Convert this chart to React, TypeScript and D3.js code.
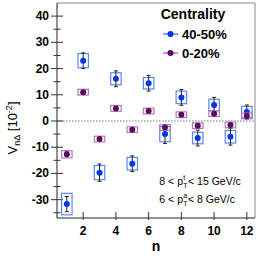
import * as d3 from "d3"

const harmonics = [1, 2, 3, 4, 5, 6, 7, 8, 9, 10, 11, 12]

// 40-50% centrality
const periphVal = [-31.7, 23.0, -19.7, 16.1, -16.3, 14.4, -5.0, 9.0, -6.5, 6.1, -6.0, 3.4]
const periphStat = [2.9, 3.0, 3.3, 3.0, 3.0, 3.0, 3.6, 3.0, 3.0, 2.9, 3.2, 2.7]
const periphSys = [4.1, 2.7, 2.7, 2.3, 2.4, 2.2, 2.9, 2.4, 2.2, 2.2, 2.4, 2.2]

// 0-20% centrality
const centVal = [-12.7, 11.0, -6.9, 4.8, -3.3, 3.8, -2.5, 2.4, -1.8, 2.8, -1.5, 1.9]
const centStat = [0.9, 0.6, 0.6, 0.6, 0.6, 0.6, 0.7, 0.6, 0.6, 0.6, 0.6, 0.6]
const centSys = [1.4, 1.1, 1.1, 1.1, 1.1, 1.1, 1.1, 1.1, 1.1, 1.1, 1.1, 1.1]

const yTicks = [-30, -20, -10, 0, 10, 20, 30, 40]
const yMinor = [-35, -25, -15, -5, 5, 15, 25, 35]
const xTicks = [2, 4, 6, 8, 10, 12]

const series = [
  { label: "40-50%", vals: periphVal, stat: periphStat, sys: periphSys, fill: "#0033ee", box: "#5a86f5" },
  { label: "0-20%", vals: centVal, stat: centStat, sys: centSys, fill: "#5c0a5c", box: "#b27ab8" },
]

// kinematic cut labels: [lead, superscript, tail]
const cuts = [
  ["8 < p", "t", " < 15 GeV/c"],
  ["6 < p", "a", " < 8 GeV/c"],
]

export default function App() {
  const width = 258
  const height = 259
  const m = { top: 3, right: 3, bottom: 41, left: 57 }

  const x = d3.scaleLinear().domain([0.4, 12.5]).range([m.left, width - m.right])
  const y = d3.scaleLinear().domain([-37, 45]).range([height - m.bottom, m.top])
  const halfW = 0.32
  const font = "'Liberation Sans', Arial, sans-serif"

  return (
    <svg width={width} height={height} style={{ position: "absolute", left: 0, top: 0 }} fontFamily={font}>
      <rect width={width} height={height} fill="white" />
      {/* frame */}
      <line x1={m.left} x2={width - m.right} y1={m.top} y2={m.top} stroke="#888" strokeWidth={1} />
      <line x1={width - m.right} x2={width - m.right} y1={m.top} y2={y(-37)} stroke="#888" strokeWidth={1} />
      <line x1={m.left} x2={m.left} y1={m.top} y2={y(-37)} stroke="#222" strokeWidth={1} />
      <line x1={m.left} x2={width - m.right} y1={y(-37)} y2={y(-37)} stroke="#222" strokeWidth={1} />
      {/* zero line */}
      <line x1={m.left} x2={width - m.right} y1={y(0)} y2={y(0)} stroke="#555" strokeWidth={0.8} strokeDasharray="1.5,1.5" />

      {/* y ticks */}
      {yTicks.map((t) => (
        <g key={t}>
          <line x1={m.left - 6} x2={m.left + 6} y1={y(t)} y2={y(t)} stroke="#333" />
          <text x={m.left - 8} y={y(t) + 4} textAnchor="end" fontSize={12} fontWeight="bold">{t}</text>
        </g>
      ))}
      {yMinor.map((t) => (
        <line key={t} x1={m.left - 3.5} x2={m.left + 3.5} y1={y(t)} y2={y(t)} stroke="#333" />
      ))}
      {/* x ticks */}
      {xTicks.map((t) => (
        <g key={t}>
          <line x1={x(t)} x2={x(t)} y1={y(-37) - 6} y2={y(-37) + 2} stroke="#333" />
          <text x={x(t)} y={y(-37) + 17} textAnchor="middle" fontSize={12} fontWeight="bold">{t}</text>
        </g>
      ))}

      {/* data */}
      {series.map((s) => (
        <g key={s.label}>
          {harmonics.map((n, i) => (
            <g key={n}>
              <rect
                x={x(n - halfW)}
                width={x(n + halfW) - x(n - halfW)}
                y={y(s.vals[i] + s.sys[i])}
                height={y(s.vals[i] - s.sys[i]) - y(s.vals[i] + s.sys[i])}
                fill="none"
                stroke={s.box}
                strokeWidth={1.2}
              />
              <line x1={x(n)} x2={x(n)} y1={y(s.vals[i] + s.stat[i])} y2={y(s.vals[i] - s.stat[i])} stroke="#222" strokeWidth={1} />
              <line x1={x(n) - 2} x2={x(n) + 2} y1={y(s.vals[i] + s.stat[i])} y2={y(s.vals[i] + s.stat[i])} stroke="#222" strokeWidth={1} />
              <line x1={x(n) - 2} x2={x(n) + 2} y1={y(s.vals[i] - s.stat[i])} y2={y(s.vals[i] - s.stat[i])} stroke="#222" strokeWidth={1} />
              <circle cx={x(n)} cy={y(s.vals[i])} r={3} fill={s.fill} />
            </g>
          ))}
        </g>
      ))}

      {/* legend */}
      <text x={193} y={19} textAnchor="middle" fontSize={14} fontWeight="bold">Centrality</text>
      {series.map((s, i) => (
        <g key={s.label} transform={`translate(0,${34 + i * 19})`}>
          <line x1={163} x2={178} y1={0} y2={0} stroke={s.box} strokeWidth={1.5} />
          <circle cx={170.5} cy={0} r={3} fill={s.fill} />
          <text x={182} y={5} fontSize={13} fontWeight="bold">{s.label}</text>
        </g>
      ))}

      {/* kinematic ranges */}
      {cuts.map((c, i) => {
        const by = 184.5 + i * 18
        return (
          <g key={c[1]}>
            <text x={183} y={by} textAnchor="end" fontSize={10.5}>{c[0]}</text>
            <text x={183.3} y={by - 5} fontSize={7}>{c[1]}</text>
            <text x={183.3} y={by + 3.5} fontSize={7}>T</text>
            <text x={188} y={by} fontSize={10.5}>{c[2]}</text>
          </g>
        )
      })}

      {/* axis titles */}
      <text x={156} y={251} textAnchor="middle" fontSize={14} fontWeight="bold">n</text>
      <text transform="translate(17,128) rotate(-90)" textAnchor="middle" fontSize={13}>
        V<tspan fontSize={9} dy={3}>nΔ</tspan><tspan dy={-3}> [10</tspan><tspan fontSize={9} dy={-5}>-2</tspan><tspan dy={5}>]</tspan>
      </text>
    </svg>
  )
}
